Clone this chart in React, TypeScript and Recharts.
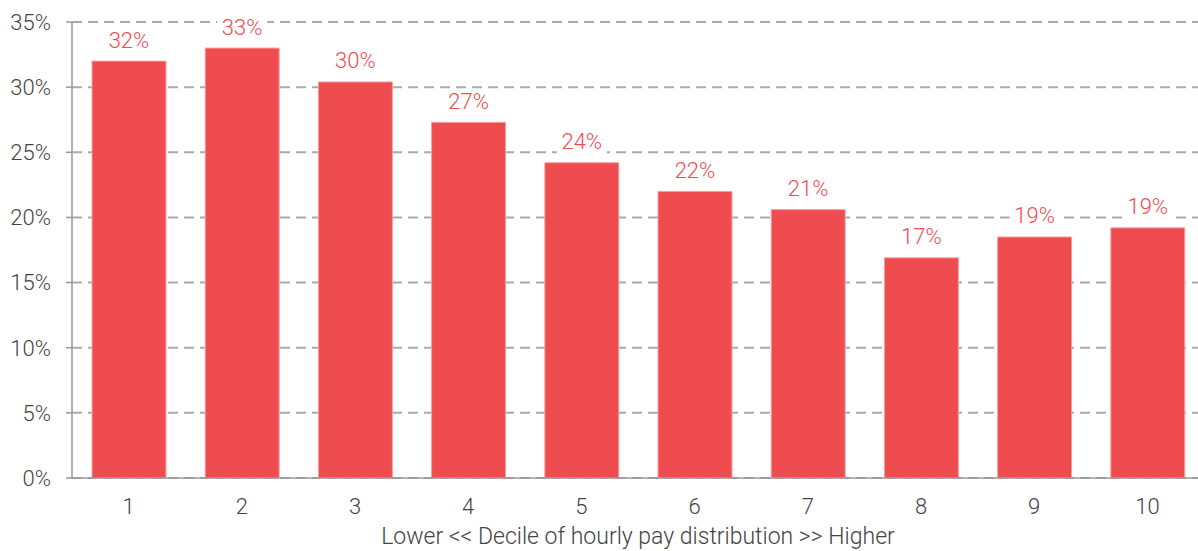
import { BarChart, Bar, XAxis, YAxis, CartesianGrid, LabelList } from "recharts";

const deciles = ["1", "2", "3", "4", "5", "6", "7", "8", "9", "10"];
const shares = [32.0, 33.0, 30.4, 27.3, 24.2, 22.0, 20.6, 16.9, 18.5, 19.2];
const yTicks = [0, 5, 10, 15, 20, 25, 30, 35];

const data = deciles.map((d, i) => ({ decile: d, share: shares[i] }));

const FONT = "Roboto, 'Noto Sans', sans-serif";
const RED = "#ef4c4f";

// value label with a white box so the dashed grid doesn't run through it
function ValueLabel(props: any) {
  const { x, y, width, value } = props;
  const cx = x + width / 2;
  const cy = y - 21;
  const txt = `${Math.round(value)}%`;
  return (
    <g>
      <rect x={cx - 25} y={cy - 12} width={50} height={24} fill="#fff" />
      <text
        x={cx}
        y={cy}
        textAnchor="middle"
        dominantBaseline="central"
        fill={RED}
        fontSize={22}
        fontWeight={300}
        fontFamily={FONT}
      >
        {txt}
      </text>
    </g>
  );
}

export default function App() {
  return (
    <div style={{ position: "absolute", left: 0, top: 0, width: 1198, height: 551, overflow: "hidden", background: "#fff" }}>
      <BarChart
        width={1204}
        height={551}
        data={data}
        margin={{ top: 22, right: 0, bottom: 0, left: 0 }}
      >
        <CartesianGrid vertical={false} stroke="#aaa" strokeWidth={2} strokeDasharray="10 6" />
        <XAxis
          dataKey="decile"
          height={73}
          axisLine={{ stroke: "#999", strokeWidth: 1.5 }}
          tickLine={false}
          tickMargin={14}
          tick={{ fontSize: 22, fill: "#444", fontFamily: FONT, fontWeight: 300 }}
          label={{
            value: "Lower << Decile of hourly pay distribution >> Higher",
            position: "insideBottom",
            offset: 7,
            fontSize: 23,
            fill: "#444",
            fontFamily: FONT,
            fontWeight: 300,
          }}
        />
        <YAxis
          width={72}
          domain={[0, 35]}
          ticks={yTicks}
          interval={0}
          axisLine={{ stroke: "#999", strokeWidth: 1.5 }}
          tickLine={{ stroke: "#999", strokeWidth: 1.5 }}
          tickSize={6}
          tickMargin={15}
          tickFormatter={(v: number) => `${v}%`}
          tick={{ fontSize: 22, fill: "#444", fontFamily: FONT, fontWeight: 300 }}
        />
        <Bar dataKey="share" fill={RED} stroke="#f6a3a5" strokeWidth={1} barSize={74} isAnimationActive={false}>
          <LabelList dataKey="share" content={ValueLabel} />
        </Bar>
      </BarChart>
    </div>
  );
}
